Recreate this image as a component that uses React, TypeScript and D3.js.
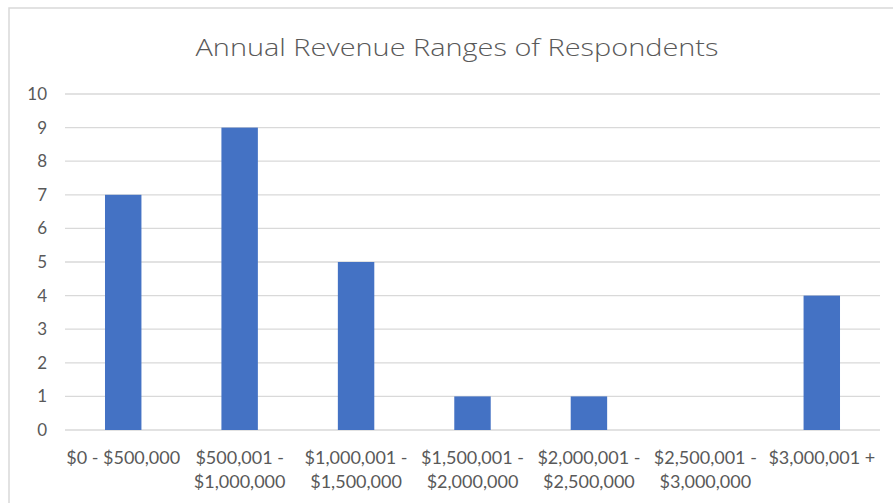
import React from "react";
import * as d3 from "d3";

const categories: string[][] = [
  ["$0 - $500,000"],
  ["$500,001 -", "$1,000,000"],
  ["$1,000,001 -", "$1,500,000"],
  ["$1,500,001 -", "$2,000,000"],
  ["$2,000,001 -", "$2,500,000"],
  ["$2,500,001 -", "$3,000,000"],
  ["$3,000,001 +"],
];
const values: number[] = [7, 9, 5, 1, 1, 0, 4];
const yTicks: number[] = [0, 1, 2, 3, 4, 5, 6, 7, 8, 9, 10];
const title = "Annual Revenue Ranges of Respondents";

const W = 893;
const H = 503;
const plot = { left: 65, right: 880, top: 94, bottom: 430 };
const FONT = "Lato, 'Open Sans', sans-serif";
const TEXT = "#595959";

export default function App() {
  const x = d3
    .scaleBand<number>()
    .domain(d3.range(categories.length))
    .range([plot.left, plot.right])
    .paddingInner(0.687)
    .paddingOuter(0.3435);
  const y = d3.scaleLinear().domain([0, 10]).range([plot.bottom, plot.top]);
  const step = (plot.right - plot.left) / categories.length;

  return (
    <div style={{ position: "absolute", left: 0, top: 0 }}>
      <svg width={W} height={H} style={{ display: "block" }}>
        <rect x={0} y={0} width={W} height={H} fill="#fff" />
        <rect x={9} y={8} width={W + 20} height={H + 20} fill="#fff" stroke="#D9D9D9" strokeWidth={1.5} />
        <text
          x={457}
          y={56}
          textAnchor="middle"
          fontFamily="'Open Sans', Lato, sans-serif"
          fontWeight={300}
          fontSize={24}
          textLength={523}
          lengthAdjust="spacingAndGlyphs"
          fill={TEXT}
        >
          {title}
        </text>
        {yTicks.map((t) => (
          <g key={t}>
            <line x1={plot.left} x2={plot.right} y1={y(t)} y2={y(t)} stroke="#D9D9D9" strokeWidth={1.3} />
            <text x={47} y={y(t)} dy="0.35em" textAnchor="end" fontFamily={FONT} fontSize={17} fill={TEXT}>
              {t}
            </text>
          </g>
        ))}
        {values.map((v, i) => (
          <rect
            key={i}
            x={x(i)!}
            y={y(v)}
            width={x.bandwidth()}
            height={y(0) - y(v)}
            fill="#4472C4"
          />
        ))}
        {categories.map((lines, i) => (
          <text
            key={i}
            x={plot.left + step * (i + 0.5)}
            y={464}
            textAnchor="middle"
            fontFamily={FONT}
            fontSize={18}
            fill={TEXT}
          >
            {lines.map((l, j) => (
              <tspan key={j} x={plot.left + step * (i + 0.5)} dy={j === 0 ? 0 : 24}>
                {l}
              </tspan>
            ))}
          </text>
        ))}
      </svg>
    </div>
  );
}
